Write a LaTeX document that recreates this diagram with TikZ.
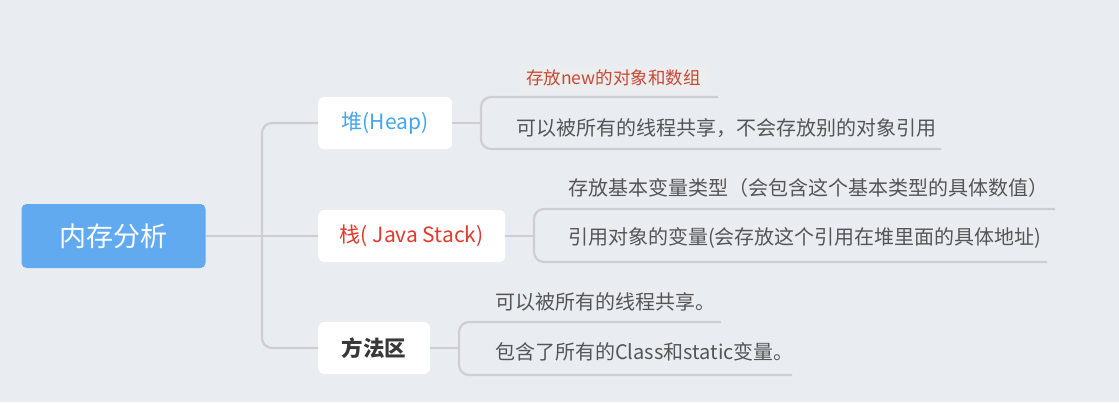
\documentclass[tikz,border=0pt]{standalone}
\usepackage{fontspec}
\setmainfont{Noto Sans CJK SC}
\usetikzlibrary{positioning}
\definecolor{bgC}{RGB}{233,237,241}
\definecolor{rootC}{RGB}{98,170,240}
\definecolor{lineC}{RGB}{204,206,211}
\definecolor{heapC}{RGB}{66,165,238}
\definecolor{stackC}{RGB}{226,58,46}
\definecolor{textC}{RGB}{85,85,85}
\definecolor{noteC}{RGB}{200,72,52}
\definecolor{noteBg}{RGB}{236,237,239}

\begin{document}
\begin{tikzpicture}[x=1pt,y=-1pt,
    rootbox/.style={rectangle,fill=rootC,rounded corners=5pt,minimum height=64pt,minimum width=184pt,text=white,font=\fontsize{27}{30}\selectfont},
    topicbox/.style={rectangle,fill=white,rounded corners=6pt,minimum height=52pt,anchor=west,font=\fontsize{21}{24}\selectfont},
    leaftext/.style={anchor=west,inner sep=0pt,text=textC,font=\fontsize{20}{24}\selectfont},
    note/.style={anchor=west,fill=noteBg,inner xsep=7pt,inner ysep=4pt,text=noteC,font=\fontsize{17.5}{20}\selectfont},
    link/.style={draw=lineC,line width=2.2pt},
    bracket/.style={link,rounded corners=10pt}
  ]
  \fill[bgC] (0,0) rectangle (1119,402);
  \useasboundingbox (0,0) rectangle (1119,402);
  % centre and the three topics
  \node[rootbox] (root) at (113.5,236) {内存分析};
  \node[topicbox,minimum width=134pt,text=heapC] (heap) at (318,123) {堆(Heap)};
  \node[topicbox,minimum width=187pt,text=stackC] (stack) at (318,236) {栈( Java Stack)};
  \node[topicbox,minimum width=112pt,text=black!78,font=\fontsize{21.5}{24}\selectfont\bfseries] (method) at (318,348) {方法区};
  % leaves
  \node[note] (h1) at (519,78) {存放new的对象和数组};
  \node[leaftext] (h2) at (516,128) {可以被所有的线程共享，不会存放别的对象引用};
  \node[leaftext] (s1) at (568,188) {存放基本变量类型（会包含这个基本类型的具体数值）};
  \node[leaftext] (s2) at (568,238) {引用对象的变量(会存放这个引用在堆里面的具体地址)};
  \node[leaftext] (m1) at (495,302) {可以被所有的线程共享。};
  \node[leaftext] (m2) at (495,352) {包含了所有的Class和static变量。};
  % joints and underline ends
  \coordinate (trunk) at (262,236);
  \coordinate (hjoin) at (481,123);
  \coordinate (sjoin) at (534,236);
  \coordinate (mjoin) at (459,348);
  \coordinate (h1end) at (718,97);
  \coordinate (h2end) at (941,149);
  \coordinate (s1end) at (1055,209);
  \coordinate (s2end) at (1047,262);
  \coordinate (m1end) at (721,322);
  \coordinate (m2end) at (792,375);
  \draw[link] (root.east) -- (stack.west);
  \draw[bracket] (heap.west) -| (trunk) |- (method.west);
  \draw[link] (heap.east) -- (hjoin);
  \draw[bracket] (h1end) -| (hjoin) |- (h2end);
  \draw[link] (stack.east) -- (sjoin);
  \draw[bracket] (s1end) -| (sjoin) |- (s2end);
  \draw[link] (method.east) -- (mjoin);
  \draw[bracket] (m1end) -| (mjoin) |- (m2end);
\end{tikzpicture}
\end{document}
